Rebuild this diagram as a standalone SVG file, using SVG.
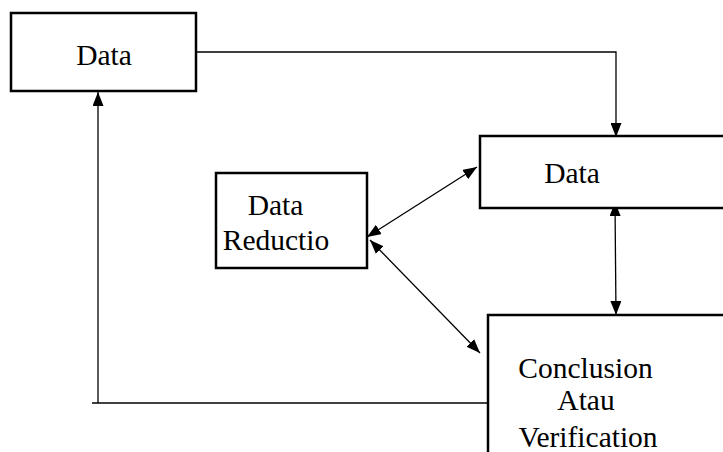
<svg xmlns="http://www.w3.org/2000/svg" width="723" height="452" viewBox="0 0 723 452">
<style>
.box{fill:#fff;stroke:#000;stroke-width:2.5}
.lbl{font-family:"Liberation Serif","Times New Roman",serif;font-size:29.5px;fill:#000}
.con{fill:none;stroke:#000;stroke-width:1.3}
</style>
<defs>
<marker id="ah" markerUnits="userSpaceOnUse" markerWidth="14" markerHeight="11" refX="14" refY="5.5" orient="auto-start-reverse">
<path d="M0,0 L14,5.5 L0,11 z" fill="#000"/>
</marker>
</defs>
<rect width="723" height="452" fill="#fff"/>
<g id="connectors">
<path class="con" d="M197,52 H616 V137" marker-end="url(#ah)"/>
<path class="con" d="M92,403 H488"/>
<path class="con" d="M98,403 V92" marker-end="url(#ah)"/>
<path class="con" d="M367,237 L477,167" marker-start="url(#ah)" marker-end="url(#ah)"/>
<path class="con" d="M370,240 L480,353" marker-start="url(#ah)" marker-end="url(#ah)"/>
<path class="con" d="M615,202 L616,315" marker-start="url(#ah)" marker-end="url(#ah)"/>
</g>
<g id="data1">
<rect class="box" x="11" y="13" width="185" height="78"/>
<text class="lbl" x="104" y="65" text-anchor="middle">Data</text>
</g>
<g id="data2">
<rect class="box" x="480" y="136" width="260" height="72"/>
<text class="lbl" x="572" y="183" text-anchor="middle">Data</text>
</g>
<g id="reduction">
<rect class="box" x="216" y="173" width="151" height="95"/>
<text class="lbl" x="275.5" y="215" text-anchor="middle">Data</text>
<text class="lbl" x="276" y="250" text-anchor="middle">Reductio</text>
</g>
<g id="conclusion">
<rect class="box" x="488" y="315" width="260" height="160"/>
<text class="lbl" x="585.5" y="378" text-anchor="middle">Conclusion</text>
<text class="lbl" x="586" y="410" text-anchor="middle">Atau</text>
<text class="lbl" x="588" y="447" text-anchor="middle">Verification</text>
</g>
</svg>
